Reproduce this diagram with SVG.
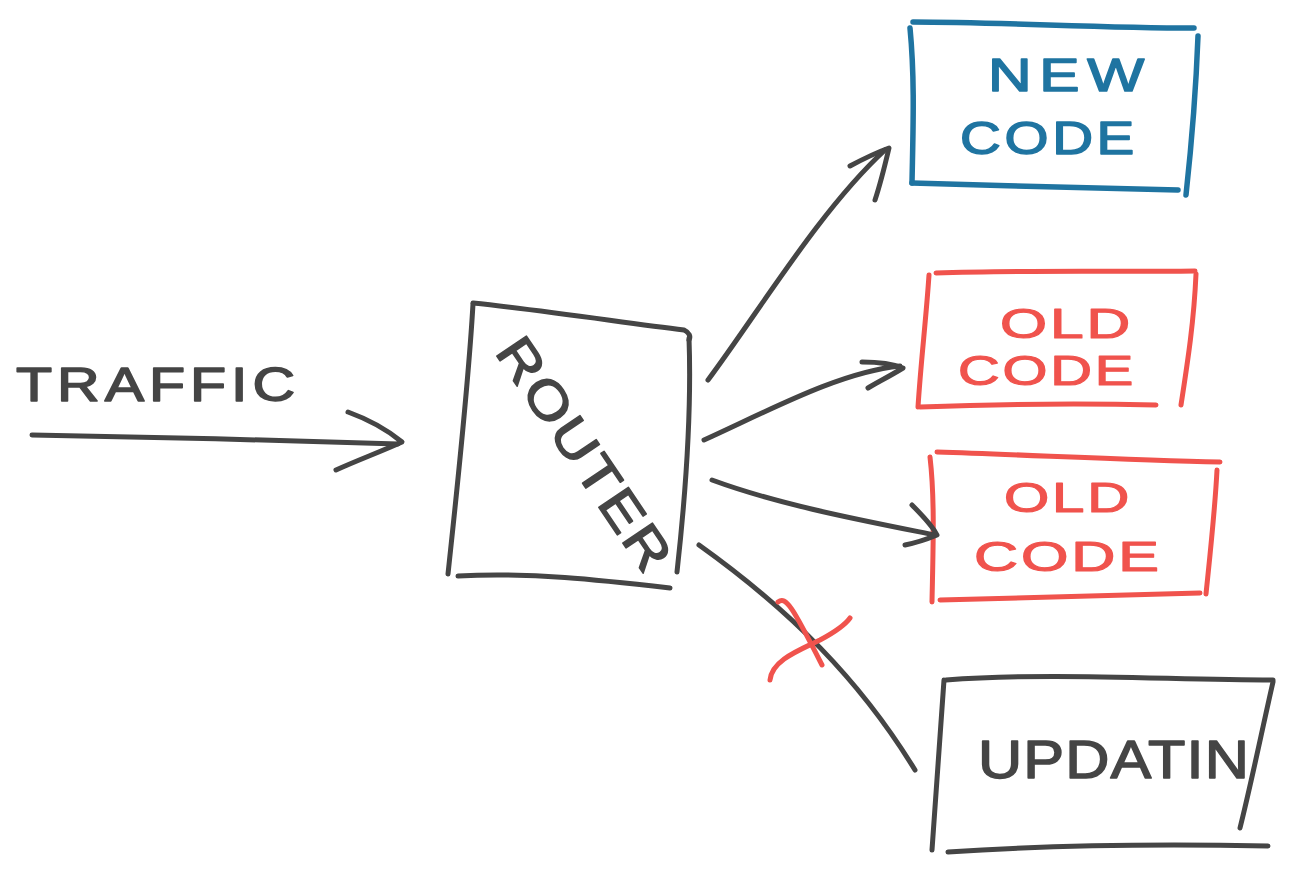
<svg xmlns="http://www.w3.org/2000/svg" width="1292" height="873" viewBox="0 0 1292 873">
<style>
.ink{fill:none;stroke:#454545;stroke-width:5;stroke-linecap:round;stroke-linejoin:round}
.blue{fill:none;stroke:#1f74a1;stroke-width:5.5;stroke-linecap:round;stroke-linejoin:round}
.red{fill:none;stroke:#f0534d;stroke-width:5;stroke-linecap:round;stroke-linejoin:round}
.t{font-family:"Liberation Sans","DejaVu Sans",sans-serif;stroke-linejoin:round}
.tk{fill:#454545;stroke:#454545;stroke-width:1.5}
.tb{fill:#1f74a1;stroke:#1f74a1;stroke-width:1.5}
.tr{fill:#f0534d;stroke:#f0534d;stroke-width:1.2}
</style>
<rect width="1292" height="873" fill="#ffffff"/>
<g id="traffic-label">
<text class="t tk" x="16" y="401" font-size="48" letter-spacing="4" textLength="284" lengthAdjust="spacingAndGlyphs">TRAFFIC</text>
</g>
<g id="router">
<path class="ink" d="M473,303 C540,310 620,322 684,330 Q692,334 689,340"/>
<path class="ink" d="M689,338 C692,420 685,500 677,572"/>
<path class="ink" d="M473,304 C468,390 458,480 448,574"/>
<path class="ink" d="M458,576 C530,572 600,580 670,588"/>
<text class="t tk" x="0" y="0" font-size="52" letter-spacing="2" transform="translate(494,352) rotate(56)" textLength="272" lengthAdjust="spacingAndGlyphs">ROUTER</text>
</g>
<g id="new-code">
<path class="blue" d="M913,22 C1000,22 1100,28 1194,28"/>
<path class="blue" d="M1198,36 C1196,90 1192,140 1186,195"/>
<path class="blue" d="M910,28 C915,80 913,130 912,183"/>
<path class="blue" d="M912,183 C1000,186 1100,188 1178,190"/>
<text class="t tb" x="988" y="91" font-size="47" letter-spacing="6" textLength="164" lengthAdjust="spacingAndGlyphs">NEW</text>
<text class="t tb" x="960" y="154" font-size="47" letter-spacing="3" textLength="178" lengthAdjust="spacingAndGlyphs">CODE</text>
</g>
<g id="old-code-1">
<path class="red" d="M936,273 C1020,270 1110,272 1195,271"/>
<path class="red" d="M1196,274 C1194,320 1188,360 1181,405"/>
<path class="red" d="M929,275 C926,320 921,360 918,407"/>
<path class="red" d="M920,407 C1000,404 1080,403 1156,405"/>
<text class="t tr" x="1000" y="338" font-size="42" letter-spacing="2" textLength="133" lengthAdjust="spacingAndGlyphs">OLD</text>
<text class="t tr" x="958" y="385" font-size="42" letter-spacing="2" textLength="178" lengthAdjust="spacingAndGlyphs">CODE</text>
</g>
<g id="old-code-2">
<path class="red" d="M937,452 C1030,455 1130,460 1220,462"/>
<path class="red" d="M1217,470 C1215,510 1210,555 1206,594"/>
<path class="red" d="M930,457 C935,500 933,550 932,602"/>
<path class="red" d="M940,600 C1020,598 1110,596 1200,593"/>
<text class="t tr" x="1004" y="512" font-size="42" letter-spacing="2" textLength="128" lengthAdjust="spacingAndGlyphs">OLD</text>
<text class="t tr" x="974" y="571" font-size="42" letter-spacing="2" textLength="188" lengthAdjust="spacingAndGlyphs">CODE</text>
</g>
<g id="updatin">
<path class="ink" d="M946,680 C1050,672 1170,680 1273,680"/>
<path class="ink" d="M1273,682 C1262,730 1252,780 1240,828"/>
<path class="ink" d="M944,680 C940,740 936,800 932,850"/>
<path class="ink" d="M948,852 C1050,845 1160,844 1268,846"/>
<text class="t tk" x="978" y="778" font-size="54" letter-spacing="1" textLength="272" lengthAdjust="spacingAndGlyphs">UPDATIN</text>
</g>
<g id="connectors">
<path class="ink" d="M32,435 C150,437 280,440 398,444"/>
<path class="ink" d="M348,412 C370,420 390,432 402,442 C380,452 358,460 336,470"/>
<path class="ink" d="M708,380 C760,310 820,210 885,150"/>
<path class="ink" d="M850,166 C865,158 878,152 889,148 C885,165 880,185 875,200"/>
<path class="ink" d="M704,440 C770,410 840,372 900,366"/>
<path class="ink" d="M862,362 C878,362 893,364 903,368 C890,376 878,382 868,388"/>
<path class="ink" d="M712,480 C780,505 860,520 935,535"/>
<path class="ink" d="M912,505 C922,515 932,525 937,535 C925,540 915,543 905,545"/>
<path class="ink" d="M699,545 C790,610 860,680 915,770"/>
<path class="red" d="M778,602 C786,596 792,606 822,665"/>
<path class="red" d="M770,680 C772,660 800,650 820,640 C835,632 845,625 850,618"/>
</g>
</svg>
